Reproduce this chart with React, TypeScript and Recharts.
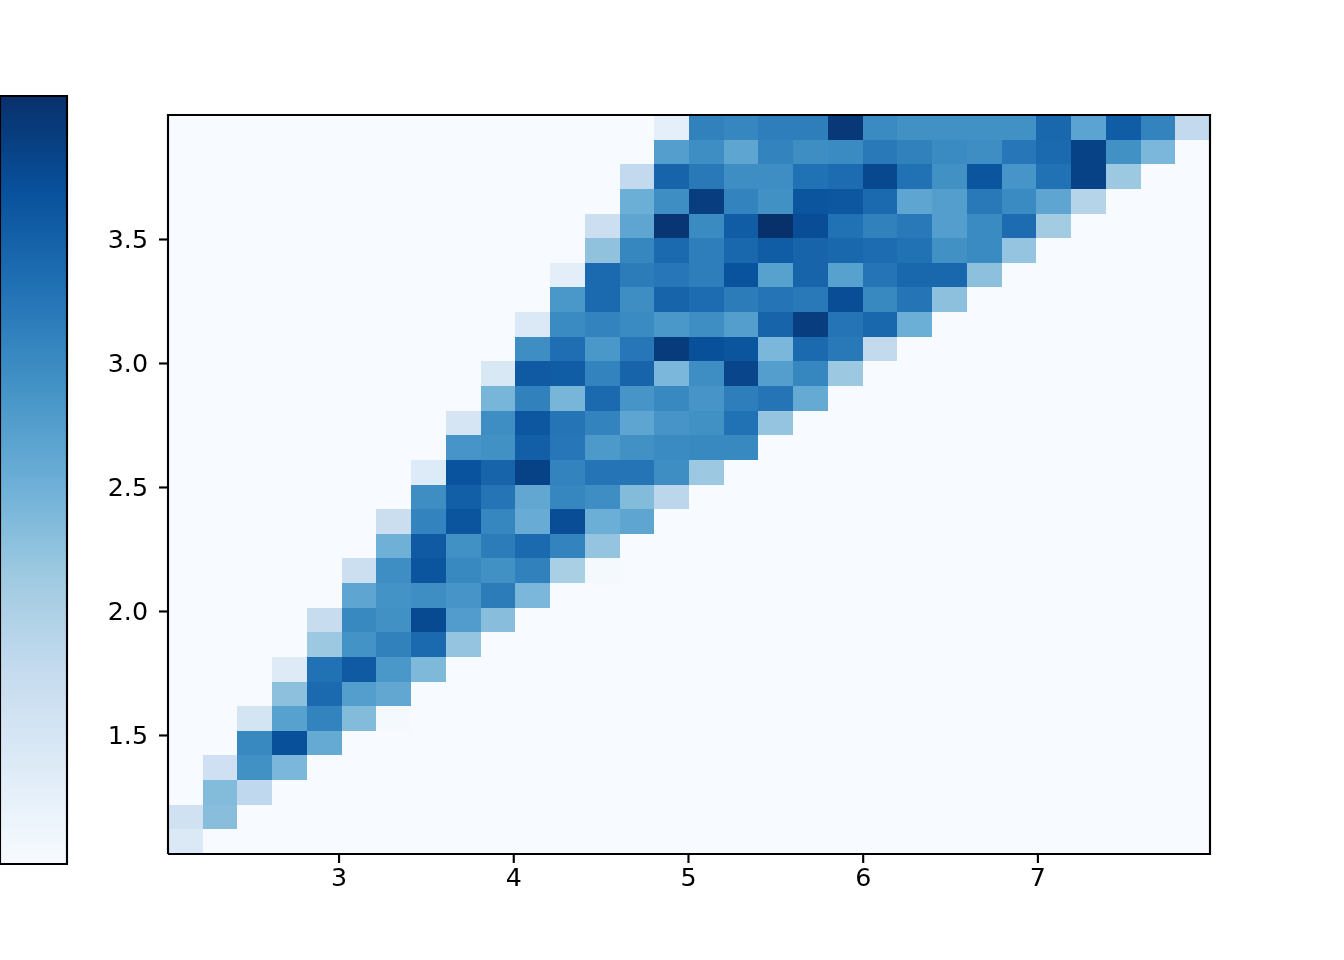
import React from "react";
import { ScatterChart, Scatter, XAxis, YAxis, BarChart, Bar, ReferenceLine } from "recharts";

const xTicks = [3, 4, 5, 6, 7];
const yTicks = [1.5, 2.0, 2.5, 3.0, 3.5];
const xDomain: [number, number] = [2.021, 7.985];
const yDomain: [number, number] = [1.022, 4.002];
const nCols = 30;
const nRows = 30;

// each row, bottom to top: first occupied column, then colour levels (0..1)
const rowStarts = [0,0,1,1,2,2,3,3,4,4,5,5,6,6,7,7,8,8,9,9,10,10,11,11,12,12,13,13,14,14];
const row00 = [.14];
const row01 = [.2,.43];
const row02 = [.44,.27];
const row03 = [.21,.63,.46];
const row04 = [.66,.88,.52];
const row05 = [.18,.56,.68,.44,.015];
const row06 = [.42,.78,.57,.53];
const row07 = [.125,.75,.84,.6,.45];
const row08 = [.38,.62,.69,.78,.4];
const row09 = [.24,.66,.63,.9,.58,.43];
const row10 = [.54,.62,.64,.61,.71,.46];
const row11 = [.22,.64,.86,.66,.63,.69,.34,.015];
const row12 = [.49,.84,.63,.71,.78,.68,.4];
const row13 = [.23,.68,.86,.67,.51,.89,.5,.54];
const row14 = [.64,.82,.74,.53,.67,.64,.44,.28];
const row15 = [.13,.87,.8,.93,.68,.74,.74,.64,.38];
const row16 = [.61,.63,.82,.73,.59,.63,.65,.66,.66];
const row17 = [.17,.64,.85,.74,.68,.54,.61,.63,.75,.4];
const row18 = [.47,.69,.47,.78,.61,.66,.61,.7,.74,.52];
const row19 = [.15,.84,.83,.68,.8,.46,.64,.92,.57,.67,.38];
const row20 = [.64,.76,.6,.73,.96,.88,.86,.46,.78,.72,.26];
const row21 = [.14,.65,.68,.65,.6,.64,.57,.8,.95,.74,.79,.5];
const row22 = [.6,.78,.64,.8,.77,.71,.74,.72,.89,.66,.74,.42];
const row23 = [.1,.78,.71,.73,.7,.87,.56,.8,.56,.74,.79,.79,.42];
const row24 = [.41,.67,.78,.7,.79,.83,.8,.79,.77,.75,.63,.65,.4];
const row25 = [.22,.54,.98,.65,.83,1,.89,.75,.69,.72,.57,.65,.77,.36];
const row26 = [.5,.64,.95,.68,.63,.86,.85,.78,.54,.57,.72,.65,.54,.3];
const row27 = [.26,.8,.72,.64,.64,.75,.77,.91,.75,.63,.86,.61,.75,.93,.38];
const row28 = [.57,.64,.54,.68,.64,.65,.72,.69,.65,.64,.73,.78,.93,.63,.46];
const row29 = [.09,.69,.67,.7,.7,.97,.65,.63,.63,.63,.63,.79,.55,.83,.68,.26];
const rows = [row00,row01,row02,row03,row04,row05,row06,row07,row08,row09,row10,row11,row12,row13,row14,row15,row16,row17,row18,row19,row20,row21,row22,row23,row24,row25,row26,row27,row28,row29];

const blues = ["#f7fbff","#deebf7","#c6dbef","#9ecae1","#6baed6","#4292c6","#2171b5","#08519c","#08306b"];

function hexToRgb(h: string) {
  return [1, 3, 5].map((i) => parseInt(h.slice(i, i + 2), 16));
}
function colour(v: number) {
  const p = Math.min(Math.max(v, 0), 1) * (blues.length - 1);
  const i = Math.min(Math.floor(p), blues.length - 2);
  const a = hexToRgb(blues[i]);
  const b = hexToRgb(blues[i + 1]);
  const t = p - i;
  const c = a.map((x, k) => Math.round(x + (b[k] - x) * t));
  return `rgb(${c[0]},${c[1]},${c[2]})`;
}

const binX = (xDomain[1] - xDomain[0]) / nCols;
const binY = (yDomain[1] - yDomain[0]) / nRows;
const cells: { x: number; y: number; v: number }[] = [];
for (let r = 0; r < nRows; r++) {
  for (let c = 0; c < nCols; c++) {
    const k = c - rowStarts[r];
    const v = k >= 0 && k < rows[r].length ? rows[r][k] : 0;
    cells.push({ x: xDomain[0] + (c + 0.5) * binX, y: yDomain[0] + (r + 0.5) * binY, v });
  }
}

const PLOT_L = 168;
const PLOT_T = 115;
const PLOT_R = 1210;
const PLOT_B = 854;
const cellW = (PLOT_R - PLOT_L) / nCols;
const cellH = (PLOT_B - PLOT_T) / nRows;
const LW = 2.13;
const FONT = { fontFamily: "DejaVu Sans", fontSize: 25.3, fill: "#000" };

function CellShape(props: any) {
  const { cx, cy, payload } = props;
  return (
    <rect
      x={cx - cellW / 2}
      y={cy - cellH / 2}
      width={cellW}
      height={cellH}
      fill={colour(payload.v)}
      shapeRendering="crispEdges"
    />
  );
}

const barData = [{ name: "scale", level: 1 }];
const layer: React.CSSProperties = { position: "fixed", left: 0, top: 0 };

export default function App() {
  const line = { stroke: "#000", strokeWidth: LW };
  const plotMargin = { top: PLOT_T, right: 1344 - PLOT_R, bottom: 960 - PLOT_B, left: PLOT_L };
  return (
    <div style={{ width: 1328, height: 944 }}>
      <div style={layer}>
        <BarChart
          width={80}
          height={960}
          data={barData}
          margin={{ top: 96, bottom: 96, left: 0, right: 13 }}
          barCategoryGap={0}
        >
          <defs>
            <linearGradient id="bluesBar" x1="0" y1="1" x2="0" y2="0">
              {blues.map((c, i) => (
                <stop key={c} offset={i / (blues.length - 1)} stopColor={c} />
              ))}
            </linearGradient>
          </defs>
          <XAxis dataKey="name" hide />
          <YAxis hide domain={[0, 1]} />
          <Bar dataKey="level" fill="url(#bluesBar)" stroke="#000" strokeWidth={LW} isAnimationActive={false} />
        </BarChart>
      </div>
      <div style={layer}>
        <ScatterChart width={1344} height={960} margin={plotMargin}>
          <XAxis type="number" dataKey="x" domain={xDomain} allowDataOverflow hide />
          <YAxis type="number" dataKey="y" domain={yDomain} allowDataOverflow hide />
          <Scatter data={cells} shape={CellShape} isAnimationActive={false} />
        </ScatterChart>
      </div>
      <div style={layer}>
        <ScatterChart
          width={1344}
          height={960}
          margin={{ top: PLOT_T, right: 1344 - PLOT_R, bottom: 56, left: 68 }}
        >
          <XAxis
            type="number"
            dataKey="x"
            domain={xDomain}
            ticks={xTicks}
            allowDataOverflow
            height={50}
            tick={FONT}
            tickSize={9}
            tickMargin={5}
            axisLine={line}
            tickLine={line}
            interval={0}
          />
          <YAxis
            type="number"
            dataKey="y"
            domain={yDomain}
            ticks={yTicks}
            allowDataOverflow
            width={100}
            tick={FONT}
            tickSize={9}
            tickMargin={11}
            axisLine={line}
            tickLine={line}
            interval={0}
            tickFormatter={(v: number) => v.toFixed(1)}
          />
          <ReferenceLine y={yDomain[1]} stroke="#000" strokeWidth={LW} strokeLinecap="square" />
          <ReferenceLine x={xDomain[1]} stroke="#000" strokeWidth={LW} strokeLinecap="square" />
        </ScatterChart>
      </div>
    </div>
  );
}
